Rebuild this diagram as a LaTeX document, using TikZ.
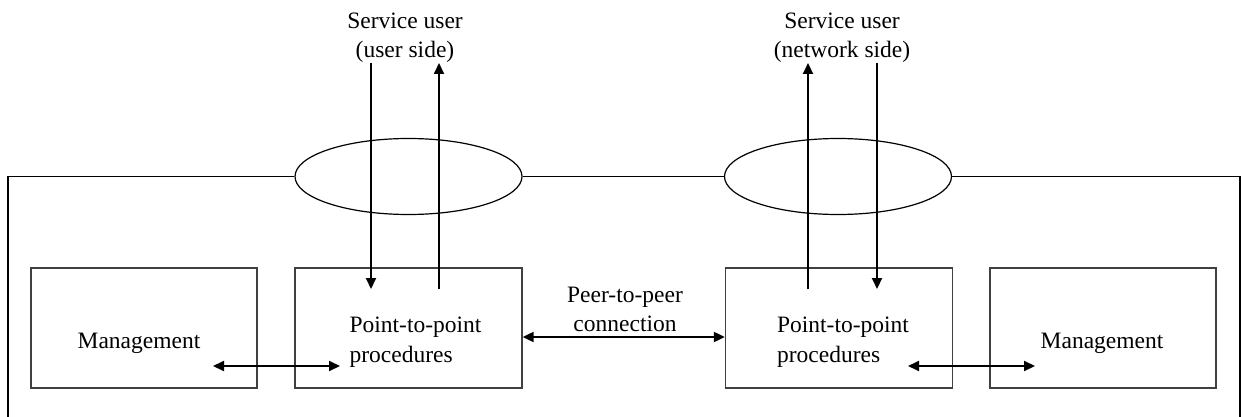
\documentclass[tikz,border=0pt]{standalone}
\usepackage{fontspec}
\setmainfont{Liberation Serif}
\usetikzlibrary{arrows.meta,shapes.geometric}
\tikzset{
  txt/.style={inner sep=0pt, align=center, font=\fontsize{11.75}{14.75}\selectfont},
  txtl/.style={inner sep=0pt, align=left, font=\fontsize{11.75}{14.75}\selectfont},
  blk/.style={draw=black!75, line width=0.65pt, minimum height=60pt, inner sep=0pt},
  ring/.style={ellipse, draw, line width=0.6pt, fill=white, minimum width=113.5pt,
    minimum height=38pt, inner sep=0pt},
  frameline/.style={line width=0.55pt},
  arr/.style={line width=1pt, -{Triangle[length=5.5pt,width=5pt]}},
  dbl/.style={line width=1pt, {Triangle[length=5.5pt,width=5pt]}-{Triangle[length=5.5pt,width=5pt]}}
}
\begin{document}
\begin{tikzpicture}[x=0.5pt,y=-0.5pt]
\useasboundingbox (0,0) rectangle (1241,417);

% entity blocks
\node[blk, minimum width=113pt]   (mgmtL) at (144,328) {};
\node[blk, minimum width=113.5pt] (ptpL)  at (408.5,328) {};
\node[blk, minimum width=113.5pt] (ptpR)  at (839,328) {};
\node[blk, minimum width=113pt]   (mgmtR) at (1103,328) {};

% service access points
\node[ring] (sapL) at (408.5,176.5) {};
\node[ring] (sapR) at (838,176.5) {};

% enclosing frame, open at the bottom
\draw[frameline] (8,417) -- (8,176.5) -- (sapL.west);
\draw[frameline] (sapL.east) -- (sapR.west);
\draw[frameline] (sapR.east) -- (1240,176.5) -- (1240,417);

% labels
\node[txt] (userL) at (405,37.5) {Service user\\(user side)};
\node[txt] (userR) at (842,37.5) {Service user\\(network side)};
\node[txt] (mgmtLt) at (139,343) {Management};
\node[txt] (mgmtRt) at (1102,343) {Management};
\node[txtl] (ptpLt) at (415.5,342) {Point-to-point\\procedures};
\node[txtl] (ptpRt) at (843,342) {Point-to-point\\procedures};
\node[txt] (peer) at (625,309.5) {Peer-to-peer\\connection};

% vertical primitives between users and procedures
\coordinate (dnLtop) at (371,63);
\coordinate (dnLend) at (371,289);
\coordinate (upLbot) at (439,289);
\coordinate (upLtop) at (439,63);
\coordinate (upRbot) at (808,289);
\coordinate (upRtop) at (808,63);
\coordinate (dnRtop) at (877,63);
\coordinate (dnRend) at (877,289);
\draw[arr] (dnLtop) -- (dnLend);
\draw[arr] (upLbot) -- (upLtop);
\draw[arr] (upRbot) -- (upRtop);
\draw[arr] (dnRtop) -- (dnRend);

% management interfaces
\coordinate (mLa) at (213,366);
\coordinate (mLb) at (340,366);
\coordinate (mRa) at (908,366);
\coordinate (mRb) at (1035,366);
\draw[dbl] (mLa) -- (mLb);
\draw[dbl] (mRa) -- (mRb);

% peer-to-peer connection
\draw[dbl] ([yshift=-4.5pt]ptpL.east) -- ([yshift=-4.5pt]ptpR.west);
\end{tikzpicture}
\end{document}
